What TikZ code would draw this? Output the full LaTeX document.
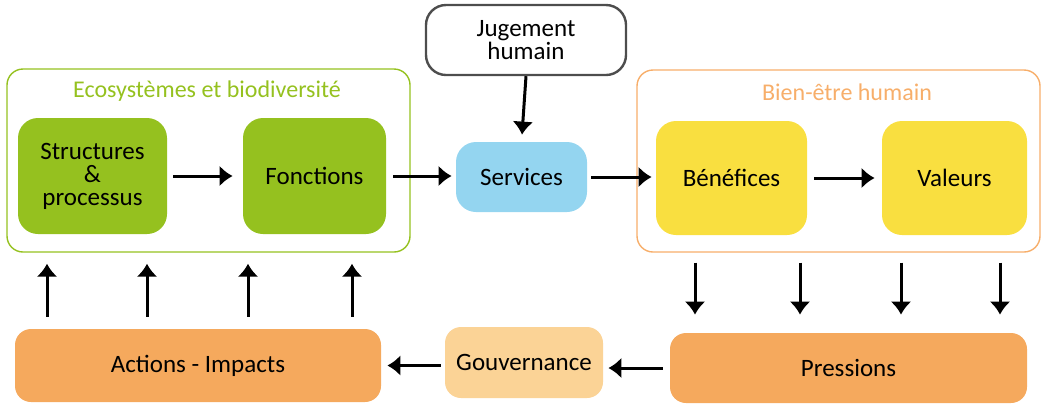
\documentclass[tikz,border=0pt]{standalone}
\usepackage{fontspec}
\setmainfont{Carlito}
\usetikzlibrary{arrows.meta}
\definecolor{ecogreen}{HTML}{95C11F}
\definecolor{benyellow}{HTML}{F9DF40}
\definecolor{servblue}{HTML}{94D5F0}
\definecolor{pressorange}{HTML}{F5A95D}
\definecolor{wellorange}{HTML}{F7AE6A}
\definecolor{govorange}{HTML}{FBD396}
\definecolor{judgegray}{HTML}{4D4D4D}
\tikzset{
  box/.style={rounded corners=10pt,align=center,font=\fontsize{12.5}{11.5}\selectfont},
  group/.style={draw,line width=0.7pt,rounded corners=8pt},
  grouptitle/.style={font=\fontsize{12}{13.5}\selectfont},
  arr/.style={line width=1.5pt,-{Latex[length=6.5pt,width=10.5pt]}},
}
\begin{document}
\begin{tikzpicture}[x=0.5pt,y=-0.5pt,line join=round]
  \useasboundingbox (0,0) rectangle (1042,404);
  \node[group,draw=ecogreen,minimum width=201.5pt,minimum height=91.5pt] (eco) at (208.5,160.5) {};
  \node[group,draw=wellorange,minimum width=201.5pt,minimum height=91pt] (well) at (838.5,161) {};
  \node[grouptitle,text=ecogreen] (ecotitle) at (207,91) {Ecosystèmes et biodiversité};
  \node[grouptitle,text=wellorange] (welltitle) at (847,92) {Bien-être humain};
  \node[box,fill=ecogreen,minimum width=74.5pt,minimum height=58pt] (struct) at (92.5,176) {Structures\\\&\\processus};
  \node[box,fill=ecogreen,minimum width=71.5pt,minimum height=58pt] (fonct) at (314.5,176) {Fonctions};
  \node[box,draw=judgegray,line width=1.2pt,minimum width=100pt,minimum height=35pt] (judge) at (526,40) {Jugement\\humain};
  \node[box,fill=servblue,minimum width=65.5pt,minimum height=35pt] (serv) at (521.5,177) {Services};
  \node[box,fill=benyellow,minimum width=75.5pt,minimum height=57pt] (benef) at (731.5,178) {Bénéfices};
  \node[box,fill=benyellow,minimum width=72.5pt,minimum height=57pt] (val) at (954.5,178) {Valeurs};
  \node[box,rounded corners=8pt,fill=pressorange,minimum width=183pt,minimum height=36.5pt] (act) at (198,365.5) {Actions - Impacts};
  \node[box,rounded corners=8pt,fill=govorange,minimum width=79pt,minimum height=35.5pt] (gov) at (524,362.5) {Gouvernance};
  \node[box,rounded corners=8pt,fill=pressorange,minimum width=178.5pt,minimum height=35pt] (press) at (848.5,368) {Pressions};
  \draw[arr,shorten <=3pt,shorten >=5pt] (struct.east) -- (fonct.west);
  \draw[arr,shorten <=3.5pt,shorten >=2pt] (fonct.east) -- (fonct.east -| serv.west);
  \draw[arr,shorten <=2pt,shorten >=2pt] (serv.east) -- (serv.east -| benef.west);
  \draw[arr,shorten <=3.5pt,shorten >=3.5pt] (benef.east) -- (val.west);
  \draw[arr,shorten >=3.5pt] (judge.south) -- (serv.north);
  \draw[arr,shorten <=3.5pt,shorten >=2.5pt] (press.west) -- (press.west -| gov.east);
  \draw[arr,shorten <=2pt,shorten >=3pt] (act.east -| gov.west) -- (act.east);
  \foreach \x in {47,147,248,352}
    \draw[arr,shorten <=6pt,shorten >=5.5pt] (\x,0 |- act.north) -- (\x,0 |- eco.south);
  \foreach \x in {695,800,901,1000}
    \draw[arr,shorten <=5pt,shorten >=9pt] (\x,0 |- well.south) -- (\x,0 |- press.north);
\end{tikzpicture}
\end{document}
